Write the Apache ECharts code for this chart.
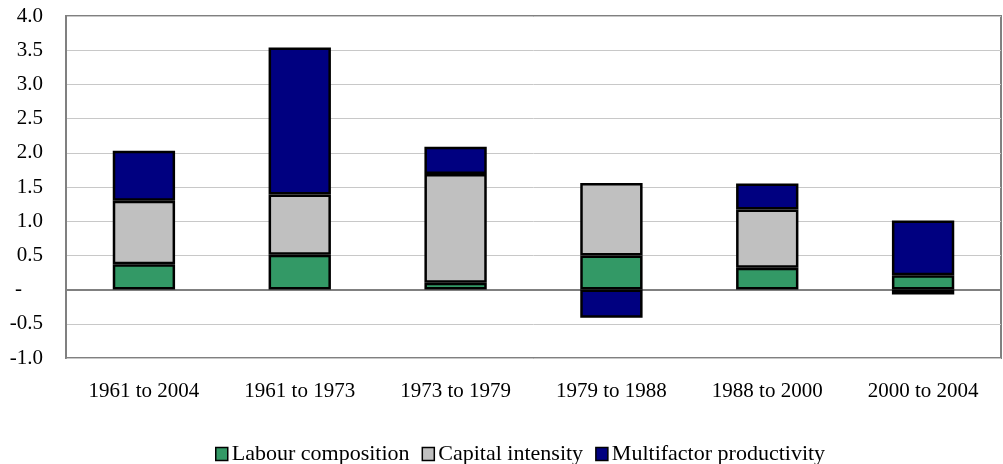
<!DOCTYPE html>
<html>
<head>
<meta charset="utf-8">
<script src="https://cdn.jsdelivr.net/npm/echarts@6/dist/echarts.min.js"></script>
<style>
  html, body { margin: 0; padding: 0; background: #fff; }
  #chart { width: 1003px; height: 464px; }
</style>
</head>
<body>
<div id="chart"></div>
<script>
// data
var periods = ['1961 to 2004', '1961 to 1973', '1973 to 1979', '1979 to 1988', '1988 to 2000', '2000 to 2004'];
var labourComposition = [0.37, 0.51, 0.10, 0.50, 0.32, 0.21];
var capitalIntensity = [0.93, 0.88, 1.59, 1.06, 0.85, -0.07];
var multifactorProductivity = [0.73, 2.15, 0.40, -0.41, 0.38, 0.80];
var yTicks = { min: -1.0, max: 4.0, step: 0.5 };

document.addEventListener('DOMContentLoaded', function () {
    var chart = echarts.init(document.getElementById('chart'));
    var font = '"Liberation Serif", "Times New Roman", serif';

    // common bar style (black outline)
    function barSeries(name, data, color) {
        return {
            name: name,
            type: 'bar',
            stack: 'total',
            xAxisIndex: 0,
            barWidth: '40%',
            data: data,
            itemStyle: { color: color, borderColor: '#000', borderWidth: 2.5 }
        };
    }

    var option = {
        animation: false,
        backgroundColor: '#fff',
        textStyle: { fontFamily: font },
        grid: {
            left: 66, right: 2, top: 16, bottom: 106,
            show: true,
            borderColor: '#808080',
            borderWidth: 2
        },
        legend: {
            left: 210,
            top: 438,
            icon: 'rect',
            itemWidth: 12,
            itemHeight: 13,
            itemGap: 12,
            itemStyle: { borderColor: '#000', borderWidth: 1.5 },
            textStyle: { fontFamily: font, fontSize: 22, color: '#000', padding: [0, 0, 0, -1] },
            data: ['Labour composition', 'Capital intensity', 'Multifactor productivity']
        },
        xAxis: [
            {
                // axis on zero: gray line + ticks between categories
                type: 'category',
                data: periods,
                axisLine: { onZero: true, lineStyle: { color: '#808080', width: 2 } },
                axisTick: { inside: true, length: 6, lineStyle: { color: '#000' } },
                axisLabel: { show: false }
            },
            {
                // labels at the bottom of the plot
                type: 'category',
                data: periods,
                position: 'bottom',
                axisLine: { show: false, onZero: false },
                axisTick: { show: false },
                axisLabel: { margin: 23, fontSize: 21, color: '#000', fontFamily: font }
            }
        ],
        yAxis: {
            type: 'value',
            min: yTicks.min,
            max: yTicks.max,
            interval: yTicks.step,
            axisLine: { show: true, lineStyle: { color: '#808080', width: 2 } },
            axisTick: { show: false },
            axisLabel: {
                fontSize: 21,
                color: '#000',
                margin: 23,
                fontFamily: font,
                formatter: function (v) {
                    if (Math.abs(v) < 1e-9) return '-    ';
                    return v.toFixed(1);
                }
            },
            splitLine: { lineStyle: { color: '#c8c8c8', width: 1 } }
        },
        series: [
            barSeries('Labour composition', labourComposition, '#339966'),
            barSeries('Capital intensity', capitalIntensity, '#c0c0c0'),
            barSeries('Multifactor productivity', multifactorProductivity, '#000080')
        ]
    };
    chart.setOption(option);

    window.addEventListener('resize', function () {
        chart.resize();
    });
});
</script>
</body>
</html>
